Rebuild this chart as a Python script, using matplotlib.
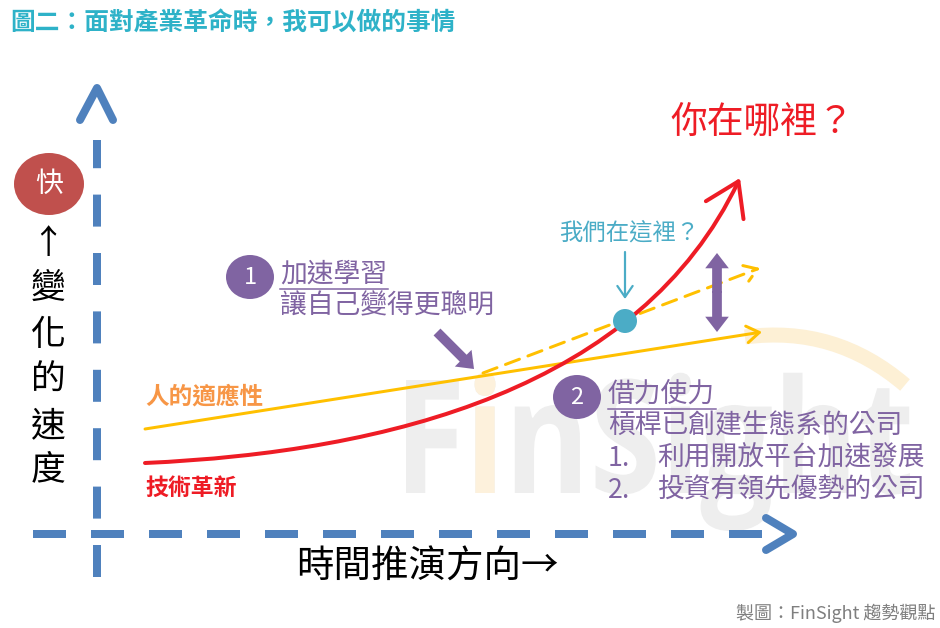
import matplotlib
matplotlib.use("Agg")
import matplotlib.pyplot as plt
import numpy as np
from matplotlib.path import Path
from matplotlib.patches import FancyArrowPatch, PathPatch, Ellipse, Circle, ArrowStyle
from matplotlib.textpath import TextPath
from matplotlib.font_manager import FontProperties
import matplotlib.transforms as mtransforms

plt.rcParams['font.family'] = ['Noto Sans CJK TC', 'DejaVu Sans']
plt.rcParams['lines.scale_dashes'] = False

# ---------------- data (diagram coordinates, pixel space, y down) -------------
title = "圖二：面對產業革命時，我可以做的事情"
y_label_chars = ["變", "化", "的", "速", "度"]
x_label = "時間推演方向→"
tech_label = "技術革新"
human_label = "人的適應性"
where_label = "你在哪裡？"
here_label = "我們在這裡？"
tip1_title = "加速學習"
tip1_text = "讓自己變得更聰明"
tip2_title = "借力使力"
tip2_lines = ["槓桿已創建生態系的公司", "利用開放平台加速發展", "投資有領先優勢的公司"]
footer = "製圖：FinSight 趨勢觀點"

# technology curve (cubic Bezier control points)
tech_x = [145, 390, 640, 740]
tech_y = [463, 452, 388, 178]
# human adaptability line
human_x = [145, 762]
human_y = [429, 332]
# accelerated learning (dashed) line
learn_x = [483, 760]
learn_y = [373, 268]
# current position dot
here_x, here_y = 625, 321

# colours
BLUE = "#4f81bd"
RED = "#ee1c25"
YEL = "#ffc000"
ORANGE = "#f79646"
PURPLE = "#8064a2"
TEAL = "#4bacc6"
TITLE_C = "#2eb2c8"

fig = plt.figure(figsize=(9.4, 6.28), dpi=100)
ax = fig.add_axes([0, 0, 1, 1])
ax.set_xlim(0, 940)
ax.set_ylim(628, 0)
ax.axis("off")

PX = 0.72  # points per pixel

# ---------------- watermark -------------
fp_wm = FontProperties(family="Open Sans", weight="bold")
tp = TextPath((0, 0), "FinSight", size=100, prop=fp_wm)
tpF = TextPath((0, 0), "F", size=100, prop=fp_wm)
tpFi = TextPath((0, 0), "Fi", size=100, prop=fp_wm)
tpi = TextPath((0, 0), "i", size=100, prop=fp_wm)
bb = tp.get_extents()
bF = tpF.get_extents()
sx = (910 - 406) / bb.width
sy = (493 - 380) / bF.height
tr = mtransforms.Affine2D().translate(-bb.x0, 0).scale(sx, -sy).translate(406, 493)
ax.add_patch(PathPatch(tr.transform_path(tp), facecolor="#eeeeee", edgecolor="none", zorder=0))
i_shift = tpFi.get_extents().x1 - tpi.get_extents().x1
tri = mtransforms.Affine2D().translate(i_shift, 0) + tr
ax.add_patch(PathPatch(tri.transform_path(tpi), facecolor="#fdf1dc", edgecolor="none", zorder=0.5))
arc = Path([(745, 337), (835, 325), (905, 385)], [Path.MOVETO, Path.CURVE3, Path.CURVE3])
ax.add_patch(PathPatch(arc, facecolor="none", edgecolor="#fdf0d5", lw=15 * PX,
                       capstyle="butt", zorder=0))

# ---------------- title -------------
ax.text(10, 23, title, color=TITLE_C, fontsize=17.8, fontweight="bold",
        ha="left", va="center")

# ---------------- axes (dashed blue with chevrons) -------------
ax.plot([97, 97], [577, 140], color=BLUE, lw=8 * PX, dashes=(32 * PX, 26.4 * PX),
        solid_capstyle="butt", dash_capstyle="butt", zorder=2)
ax.plot([80, 97, 113], [120, 88, 120], color=BLUE, lw=8 * PX,
        solid_capstyle="round", solid_joinstyle="round", zorder=2)
ax.plot([33, 765], [534, 534], color=BLUE, lw=8 * PX, dashes=(33 * PX, 25 * PX),
        dash_capstyle="butt", zorder=2)
ax.plot([766, 793, 766], [518, 534, 550], color=BLUE, lw=8 * PX,
        solid_capstyle="round", solid_joinstyle="round", zorder=2)

# ---------------- y label -------------
ax.add_patch(Ellipse((49, 184), 70, 62, facecolor="#c0504d", edgecolor="none", zorder=3))
ax.text(49, 184, "快", color="white", fontsize=20, ha="center", va="center", zorder=4)
ax.text(48, 244, "↑", color="black", fontsize=24, ha="center", va="center")
for ch, yy in zip(y_label_chars, [288, 336, 380, 427, 470]):
    ax.text(48, yy, ch, color="black", fontsize=25, ha="center", va="center")

# x label
ax.text(296, 567, x_label, color="black", fontsize=27, ha="left", va="center")

# ---------------- curves -------------
tech_path = Path(list(zip(tech_x, tech_y)),
                 [Path.MOVETO, Path.CURVE4, Path.CURVE4, Path.CURVE4])
ax.add_patch(FancyArrowPatch(path=tech_path,
                             arrowstyle=ArrowStyle("->", head_length=23, head_width=15),
                             color=RED, lw=4 * PX,
                             shrinkA=0, shrinkB=0, zorder=5,
                             capstyle="round", joinstyle="round"))
ax.add_patch(FancyArrowPatch((human_x[0], human_y[0]), (human_x[1], human_y[1]),
                             arrowstyle=ArrowStyle("->", head_length=9, head_width=6),
                             color=YEL, lw=3 * PX, shrinkA=0, shrinkB=0, zorder=4))
ax.add_patch(FancyArrowPatch((learn_x[0], learn_y[0]), (learn_x[1], learn_y[1]),
                             arrowstyle=ArrowStyle("->", head_length=9, head_width=6),
                             color=YEL, lw=3 * PX, linestyle=(0, (15 * PX, 9 * PX)),
                             shrinkA=0, shrinkB=0, zorder=4))
ax.add_patch(Circle((here_x, here_y), 12, facecolor=TEAL, edgecolor="none", zorder=6))

ax.text(145, 397, human_label, color=ORANGE, fontsize=17, fontweight="bold",
        ha="left", va="center")
ax.text(145, 488, tech_label, color=RED, fontsize=16.5, fontweight="bold",
        ha="left", va="center")
ax.text(670, 122, where_label, color=RED, fontsize=26.5, ha="left", va="center")

# here marker
ax.text(559, 233, here_label, color=TEAL, fontsize=16.8, ha="left", va="center")
ax.add_patch(FancyArrowPatch((625, 252), (625, 299),
                             arrowstyle=ArrowStyle("->", head_length=8, head_width=5.5),
                             color=TEAL, lw=2.2 * PX, shrinkA=0, shrinkB=0, zorder=6))

# purple gap double arrow
gap_style = ArrowStyle("simple", head_length=11, head_width=17, tail_width=7)
ax.add_patch(FancyArrowPatch((717, 293), (717, 253), arrowstyle=gap_style,
                             color=PURPLE, lw=0, shrinkA=0, shrinkB=0, zorder=6))
ax.add_patch(FancyArrowPatch((717, 291), (717, 332), arrowstyle=gap_style,
                             color=PURPLE, lw=0, shrinkA=0, shrinkB=0, zorder=6))
# purple pointer arrow
ax.add_patch(FancyArrowPatch((437, 332), (474, 369), arrowstyle=gap_style,
                             color=PURPLE, lw=0, shrinkA=0, shrinkB=0, zorder=6))

# ---------------- annotation 1 -------------
ax.add_patch(Ellipse((250, 277), 48, 44, facecolor=PURPLE, edgecolor="none", zorder=6))
ax.text(250, 277, "1", color="white", fontsize=17, ha="center", va="center", zorder=7)
ax.text(280, 274, tip1_title, color=PURPLE, fontsize=19.3, ha="left", va="center")
ax.plot([280, 388], [289, 289], color=PURPLE, lw=1.5 * PX)
ax.text(280, 306, tip1_text, color=PURPLE, fontsize=19.3, ha="left", va="center")

# ---------------- annotation 2 -------------
ax.add_patch(Ellipse((577, 397), 48, 44, facecolor=PURPLE, edgecolor="none", zorder=6))
ax.text(577, 397, "2", color="white", fontsize=17, ha="center", va="center", zorder=7)
ax.text(608, 394, tip2_title, color=PURPLE, fontsize=19.3, ha="left", va="center")
ax.plot([608, 716], [409, 409], color=PURPLE, lw=1.5 * PX)
ax.text(608, 426, tip2_lines[0], color=PURPLE, fontsize=19.3, ha="left", va="center")
for i, (line, yy) in enumerate(zip(tip2_lines[1:], [458, 490])):
    ax.text(608, yy, f"{i + 1}.", color=PURPLE, fontsize=19.3, ha="left", va="center")
    ax.text(657, yy, line, color=PURPLE, fontsize=19.3, ha="left", va="center")

# ---------------- footer -------------
ax.text(935, 613, footer, color="#7f7f7f", fontsize=13, ha="right", va="center")

fig.savefig("out.png", dpi=100)
